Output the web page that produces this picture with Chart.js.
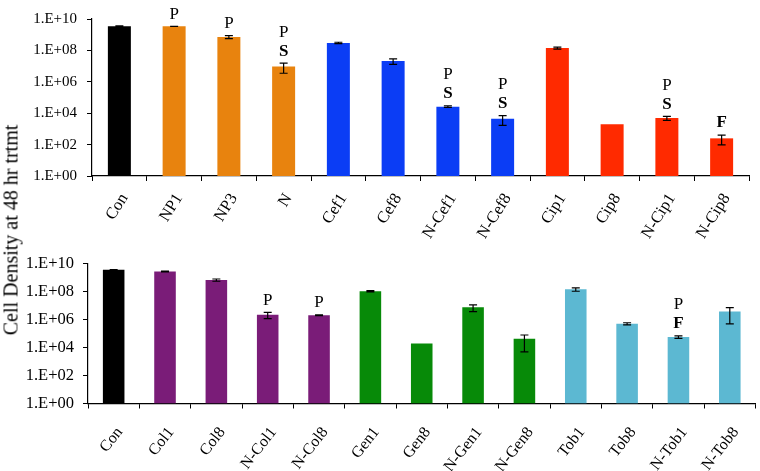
<!DOCTYPE html>
<html><head><meta charset="utf-8">
<script src="https://cdn.jsdelivr.net/npm/chart.js@4"></script>
<style>
html,body{margin:0;padding:0;background:#fff;width:760px;height:471px;overflow:hidden;}
#top{position:absolute;left:0;top:0;width:760px;height:245px;}
#bot{position:absolute;left:0;top:245px;width:760px;height:226px;}
#ytitle{position:absolute;left:11px;top:230px;transform:translate(-50%,-50%) rotate(-90deg);font:20px "Liberation Serif";white-space:nowrap;color:#000;}
</style></head><body>
<div id="top"><canvas id="c1" width="760" height="245"></canvas></div>
<div id="bot"><canvas id="c2" width="760" height="226"></canvas></div>
<div id="ytitle">Cell Density at 48 hr trtmt</div>
<script>
// ---- data ----
const yTickValues = [1, 1e2, 1e4, 1e6, 1e8, 1e10];

const topLabels = ['Con','NP1','NP3','N','Cef1','Cef8','N-Cef1','N-Cef8','Cip1','Cip8','N-Cip1','N-Cip8'];
const topValues = [3.5e9, 3.4e9, 7.2e8, 9.5e6, 3.0e8, 2.1e7, 2.6e4, 4.4e3, 1.4e8, 2.0e3, 4.9e3, 2.5e2];
const topErrors = [1.5e8, 0.5e8, 1.6e8, 6e6, 3e7, 8e6, 3e3, 2.7e3, 2e7, 0, 1.4e3, 155];
const topNotes  = ['', 'P', 'P', 'P|S', '', '', 'P|S', 'P|S', '', '', 'P|S', 'F'];

const botLabels = ['Con','Col1','Col8','N-Col1','N-Col8','Gen1','Gen8','N-Gen1','N-Gen8','Tob1','Tob8','N-Tob1','N-Tob8'];
const botValues = [3.8e9, 2.9e9, 7.0e8, 2.3e6, 2.1e6, 1.1e8, 2.0e4, 7.8e6, 4.3e4, 1.5e8, 5.2e5, 5.9e4, 3.9e6];
const botErrors = [1e8, 2e8, 1.3e8, 1.1e6, 1e5, 1e7, 0, 4e6, 3.8e4, 4e7, 9e4, 1.2e4, 3.4e6];
const botNotes  = ['', '', '', 'P', 'P', '', '', '', '', '', '', 'P|F', ''];

// ---- styles ----
const C = {black:'#000000', orange:'#E8830E', blue:'#0B3DF5', red:'#FF2A00', purple:'#7A1C78', green:'#078A08', cyan:'#5CB8D2'};
const topColors = [C.black, C.orange, C.orange, C.orange, C.blue, C.blue, C.blue, C.blue, C.red, C.red, C.red, C.red];
const botColors = [C.black, C.purple, C.purple, C.purple, C.purple, C.green, C.green, C.green, C.green, C.cyan, C.cyan, C.cyan, C.cyan];

const FONT = 'Liberation Serif';

const extrasPlugin = {
  id: 'extras',
  afterDatasetsDraw(chart) {
    const o = chart.options.plugins.extras;
    const ctx = chart.ctx;
    const meta = chart.getDatasetMeta(0);
    const ys = chart.scales.y;
    ctx.save();
    ctx.strokeStyle = '#000';
    ctx.lineWidth = 1.2;
    meta.data.forEach((bar, i) => {
      const v = o.values[i], e = o.errors[i];
      const x = bar.x;
      if (e > 0) {
        const yHi = ys.getPixelForValue(v + e);
        const yLo = ys.getPixelForValue(Math.max(v - e, 1));
        ctx.beginPath();
        ctx.moveTo(x, yHi); ctx.lineTo(x, yLo);
        ctx.moveTo(x - 4, yHi); ctx.lineTo(x + 4, yHi);
        ctx.moveTo(x - 4, yLo); ctx.lineTo(x + 4, yLo);
        ctx.stroke();
      }
      const note = o.notes[i];
      if (note) {
        const yTop = ys.getPixelForValue(v + e);
        const lines = note.split('|');
        ctx.fillStyle = '#000';
        ctx.textAlign = 'center';
        ctx.textBaseline = 'middle';
        lines.forEach((t, j) => {
          const k = lines.length - 1 - j;
          const yy = yTop - o.gap - k * o.lineStep;
          const bold = (t === 'S' || t === 'F');
          ctx.font = (bold ? 'bold ' : '') + o.noteSize + 'px "' + FONT + '"';
          ctx.fillText(t, x, yy);
        });
      }
    });
    ctx.restore();
  }
};

function makeChart(id, labels, values, errors, colors, notes, g) {
  return new Chart(document.getElementById(id), {
    type: 'bar',
    data: {
      labels: labels,
      datasets: [{ data: values, backgroundColor: colors, borderWidth: 0,
                   categoryPercentage: 1.0, barPercentage: 0.42 }]
    },
    options: {
      responsive: false,
      animation: false,
      layout: { padding: { left: 0, right: g.padRight, top: g.padTop, bottom: 0 } },
      scales: {
        x: {
          type: 'category',
          offset: true,
          grid: { offset: true, drawOnChartArea: false, drawTicks: true, tickLength: 5, color: '#000', lineWidth: 1 },
          border: { display: true, color: '#000', width: 1.2 },
          ticks: { color: '#000', font: { family: FONT, size: g.xFont }, minRotation: g.rot, maxRotation: g.rot,
                   padding: g.xPad, labelOffset: g.xShift, autoSkip: false },
          afterFit(s) { s.height = g.xHeight; }
        },
        y: {
          type: 'logarithmic',
          min: 1, max: 1e10,
          afterBuildTicks(s) { s.ticks = yTickValues.map(v => ({ value: v, major: false })); },
          grid: { drawOnChartArea: false, drawTicks: true, tickLength: 5, color: '#000', lineWidth: 1 },
          border: { display: true, color: '#000', width: 1.2 },
          ticks: {
            color: '#000', padding: g.yPad, font: { family: FONT, size: g.yFont },
            callback: (v) => '1.E+' + String(Math.round(Math.log10(v))).padStart(2, '0')
          },
          afterFit(s) { s.width = g.yWidth; }
        }
      },
      plugins: {
        legend: { display: false },
        tooltip: { enabled: false },
        extras: { values: values, errors: errors, notes: notes, gap: 12, lineStep: 19, noteSize: 17 }
      }
    },
    plugins: [extrasPlugin]
  });
}

makeChart('c1', topLabels, topValues, topErrors, topColors, topNotes,
  { yWidth: 92, padRight: 11, padTop: 14, xHeight: 69, xFont: 16.5, yFont: 15, yPad: 10, xPad: 9, xShift: 5, rot: 58 });
makeChart('c2', botLabels, botValues, botErrors, botColors, botNotes,
  { yWidth: 88, padRight: 2, padTop: 11, xHeight: 67.5, xFont: 16, yFont: 16.5, yPad: 9, xPad: 15, xShift: 6, rot: 52 });
</script>
</body></html>
